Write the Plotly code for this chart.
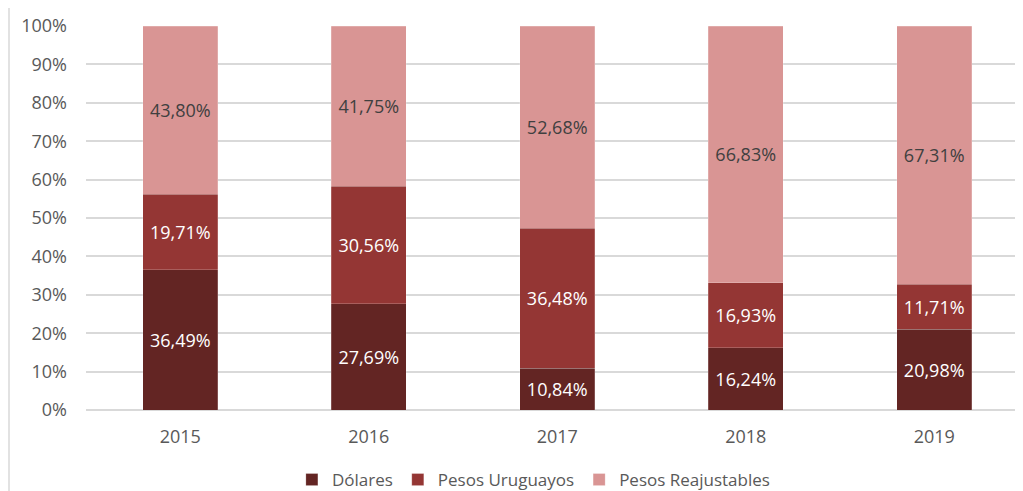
import plotly.graph_objects as go

years = ["2015", "2016", "2017", "2018", "2019"]
dolares = [36.49, 27.69, 10.84, 16.24, 20.98]
pesos_uruguayos = [19.71, 30.56, 36.48, 16.93, 11.71]
pesos_reajustables = [43.80, 41.75, 52.68, 66.83, 67.31]
y_ticks = [0, 10, 20, 30, 40, 50, 60, 70, 80, 90, 100]

series = [
    ("Dólares", dolares, "#632523", "white"),
    ("Pesos Uruguayos", pesos_uruguayos, "#943634", "white"),
    ("Pesos Reajustables", pesos_reajustables, "#D99594", "#404040"),
]

FONT = "Open Sans"
FS = 18
# page body has an 8px margin, so the figure is sized/placed to compensate
W, H = 1015, 483
L, T, B = 78, 18, 81
PW = W - L
PH = H - T - B

fig = go.Figure()
for name, vals, color, tcolor in series:
    fig.add_trace(go.Bar(
        name=name, x=years, y=[v / 100 for v in vals],
        marker=dict(color=color, line=dict(color="rgba(255,255,255,0.4)", width=0.5)),
        width=0.4,
        texttemplate="%{y:.2%}", textposition="inside", insidetextanchor="middle",
        textangle=0,
        textfont=dict(family=FONT, size=FS, color=tcolor),
    ))

fig.update_layout(
    barmode="stack",
    separators=",.",
    width=W, height=H,
    margin=dict(l=L, r=0, t=T, b=B, autoexpand=False),
    paper_bgcolor="white", plot_bgcolor="white",
    font=dict(family=FONT, size=FS, color="#595959"),
    legend=dict(orientation="h", x=0.478, xanchor="center",
                yref="container", y=1 - 472 / H, yanchor="middle",
                font=dict(family=FONT, size=17, color="#595959"), traceorder="normal",
                itemwidth=30),
    xaxis=dict(range=[-0.5, 4.471], showgrid=False, showline=False, ticks="",
               automargin=False,
               ticklabelstandoff=14, tickfont=dict(size=FS, color="#595959")),
    yaxis=dict(range=[0, 1], tickvals=[t / 100 for t in y_ticks], tickformat=".0%",
               showgrid=True, gridcolor="#d9d9d9", gridwidth=1.5, zeroline=True,
               zerolinecolor="#d9d9d9", zerolinewidth=1.5, automargin=False,
               ticks="", ticklabelstandoff=18, tickfont=dict(size=FS, color="#595959")),
    showlegend=True,
)
fig.add_shape(type="line", xref="paper", yref="paper",
              x0=(1 - L) / PW, x1=(1 - L) / PW, y0=-B / PH, y1=(PH + T) / PH,
              line=dict(color="#d9d9d9", width=1.5))

fig.write_html("out.html")
